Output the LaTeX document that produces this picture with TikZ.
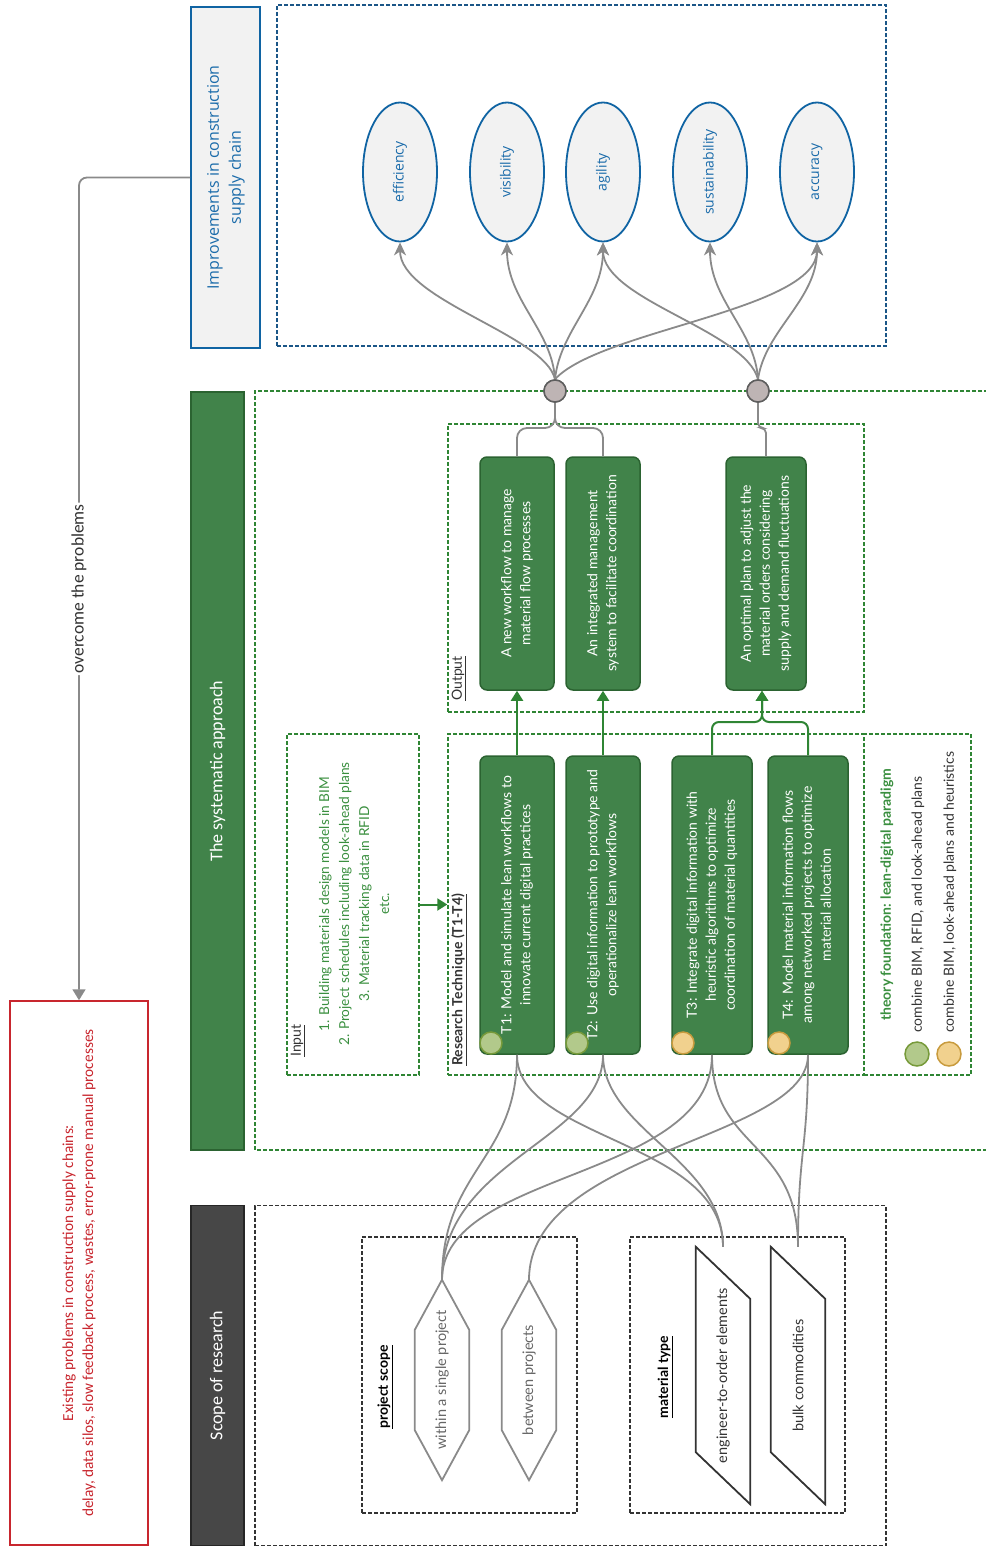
\documentclass[tikz,border=0pt]{standalone}
\usepackage{fontspec}
\setmainfont{Lato}
\newfontfamily\opensans{Open Sans}
\newfontfamily\carlito{Carlito}
\usetikzlibrary{arrows.meta,shapes.geometric,calc}
\definecolor{gfill}{HTML}{41834A}
\definecolor{gborder}{HTML}{2B6331}
\definecolor{dgreen}{HTML}{2F8534}
\definecolor{tgreen}{HTML}{3A8F3F}
\definecolor{eblue}{HTML}{1064A3}
\definecolor{tblue}{HTML}{1A6BAA}
\definecolor{bdashc}{HTML}{1B5687}
\definecolor{lgray}{HTML}{F2F2F2}
\definecolor{cgray}{HTML}{8A8A8A}
\definecolor{jfill}{HTML}{BEB4B4}
\definecolor{jborder}{HTML}{5E5E5E}
\definecolor{sfill}{HTML}{474747}
\definecolor{cred}{HTML}{C8262E}
\definecolor{dotgf}{HTML}{B2C98B}
\definecolor{dotgb}{HTML}{779A3A}
\definecolor{dotof}{HTML}{F1D18E}
\definecolor{dotob}{HTML}{C89B3E}
\definecolor{dtext}{HTML}{333333}
\newcommand\rt[1]{\rotatebox{90}{\begin{tabular}{@{}c@{}}#1\end{tabular}}}
\begin{document}
\begin{tikzpicture}[x=1pt,y=-1pt,
  gbox/.style={draw=gborder, fill=gfill, line width=1.5pt, rounded corners=7pt, inner sep=0pt, text=white, font=\fontsize{14}{19}\selectfont},
  ell/.style={ellipse, draw=eblue, fill=lgray, line width=1.8pt, minimum width=74pt, minimum height=139pt, inner sep=0pt, text=tblue, font=\opensans\fontsize{14}{16}\selectfont},
  gdash/.style={draw=dgreen, dash pattern=on 4pt off 2pt, line width=1.4pt},
  bdash/.style={draw=bdashc, dash pattern=on 4pt off 2pt, line width=1.4pt},
  kdash/.style={draw=dtext, dash pattern=on 4pt off 2pt, line width=1.4pt},
  gcon/.style={draw=cgray, line width=1.8pt},
  garr/.style={draw=cgray, line width=1.8pt, -{Stealth[length=13pt,width=12pt,inset=4pt]}},
  greenarr/.style={draw=dgreen, line width=2pt, -{Triangle[length=10pt,width=12pt]}},
  junc/.style={circle, minimum size=22pt, inner sep=0pt, fill=jfill, draw=jborder, line width=1.5pt},
  dotg/.style={circle, minimum size=22pt, inner sep=0pt, fill=dotgf, draw=dotgb, line width=1.5pt},
  doto/.style={circle, minimum size=22pt, inner sep=0pt, fill=dotof, draw=dotob, line width=1.5pt},
  lbl/.style={inner sep=0pt, font=\fontsize{14}{16}\selectfont},
  holder/.style={inner sep=0pt, minimum width=54pt}
]
\useasboundingbox (0,0) rectangle (985,1547);
% ---------------- frames
\node[bdash, minimum width=609pt, minimum height=341pt] (outc) at (581.5,175.5) {};
\draw[gdash] (1000,391) -| (255,1150) -- (1000,1150);
\node[gdash, minimum width=416pt, minimum height=288pt] (outbox) at (656,568) {};
\node[gdash, minimum width=416pt, minimum height=341pt] (resbox) at (656,904.5) {};
\node[gdash, minimum width=107pt, minimum height=341pt] (theory) at (917.5,904.5) {};
\node[gdash, minimum width=132pt, minimum height=341pt] (inbox) at (353,904.5) {};
\node[kdash, minimum width=631pt, minimum height=340pt] (scopef) at (570.5,1375.5) {};
\node[kdash, minimum width=215pt, minimum height=276pt] (pscope) at (469.5,1375) {};
\node[kdash, minimum width=215pt, minimum height=276pt] (mtype) at (737.5,1375) {};
% ---------------- side bars
\node[draw=eblue, fill=lgray, line width=1.8pt, minimum width=69pt, minimum height=341pt, inner sep=0pt, text=tblue, font=\opensans\fontsize{16}{22}\selectfont] (imp) at (225.5,177.5) {\rt{Improvements in construction\\supply chain}};
\node[draw=gborder, fill=gfill, line width=1.3pt, minimum width=53pt, minimum height=758pt, inner sep=0pt, text=white, font=\carlito\fontsize{18}{22}\selectfont] (sys) at (217.5,771) {\rotatebox{90}{The systematic approach}};
\node[draw=black!85, fill=sfill, line width=1.3pt, minimum width=53pt, minimum height=340pt, inner sep=0pt, text=white, font=\carlito\fontsize{18}{22}\selectfont] (scope) at (217.5,1375.5) {\rotatebox{90}{Scope of research}};
\node[draw=cred, line width=1.5pt, minimum width=138pt, minimum height=544pt, inner sep=0pt, text=cred, font=\carlito\fontsize{15.3}{20}\selectfont] (prob) at (79,1273) {\rt{Existing problems in construction supply chains:\\delay, data silos, slow feedback process, wastes, error-prone manual processes}};
% ---------------- ellipses
\node[ell] (e1) at (400,172) {\rotatebox{90}{efficiency}};
\node[ell] (e2) at (507,172) {\rotatebox{90}{visibility}};
\node[ell] (e3) at (603,172) {\rotatebox{90}{agility}};
\node[ell] (e4) at (710,172) {\rotatebox{90}{sustainability}};
\node[ell] (e5) at (817,172) {\rotatebox{90}{accuracy}};
% ---------------- output boxes
\node[gbox, minimum width=74pt, minimum height=233pt] (o1) at (517,573.5) {\rt{A new workflow to manage\\material flow processes}};
\node[gbox, minimum width=74pt, minimum height=233pt] (o2) at (603,573.5) {\rt{An integrated management\\system to facilitate coordination}};
\node[gbox, minimum width=80pt, minimum height=233pt] (o3) at (766,573.5) {\rt{An optimal plan to adjust the\\material orders considering\\supply and demand fluctuations}};
% ---------------- technique boxes
\node[gbox, minimum width=74pt, minimum height=298pt] (t1) at (517,905) {\rt{T1: Model and simulate lean workflows to\\innovate current digital practices}};
\node[gbox, minimum width=74pt, minimum height=298pt] (t2) at (603,905) {\rt{T2: Use digital information to prototype and\\operationalize lean workflows}};
\node[gbox, minimum width=80pt, minimum height=298pt] (t3) at (712,905) {\rt{T3: Integrate digital information with\\heuristic algorithms to optimize\\coordination of material quantities}};
\node[gbox, minimum width=80pt, minimum height=298pt] (t4) at (808,905) {\rt{T4: Model material information flows\\among networked projects to optimize\\material allocation}};
\node[dotg] (c1) at (491,1043) {};
\node[dotg] (c2) at (577,1043) {};
\node[doto] (c3) at (683,1043) {};
\node[doto] (c4) at (779,1043) {};
% ---------------- input text and labels
\node[inner sep=0pt, text=tgreen, font=\fontsize{13.7}{20}\selectfont] (intext) at (355,904) {\rt{1. Building materials design models in BIM\\2. Project schedules including look-ahead plans\\3. Material tracking data in RFID\\etc.}};
\node[lbl, text=dtext, anchor=south] (inlbl) at (298,1057) {\rotatebox{90}{\underline{Input}}};
\node[lbl, text=dtext, anchor=south] (reslbl) at (459,1066) {\rotatebox{90}{\underline{\textbf{Research Technique (T1-T4)}}}};
\node[lbl, text=dtext, anchor=south] (outlbl) at (459,701) {\rotatebox{90}{\underline{Output}}};
\node[lbl, text=tgreen, anchor=south] (thlbl) at (887,1021) {\rotatebox{90}{\textbf{theory foundation: lean-digital paradigm}}};
\node[lbl, text=dtext, anchor=south] (th1) at (918,1033) {\rotatebox{90}{combine BIM, RFID, and look-ahead plans}};
\node[lbl, text=dtext, anchor=south] (th2) at (950,1033) {\rotatebox{90}{combine BIM, look-ahead plans and heuristics}};
\node[dotg, minimum size=24pt] (lg) at (917,1054) {};
\node[doto, minimum size=24pt] (lo) at (949,1054) {};
% ---------------- scope items
\node[lbl, text=black, font=\bfseries\fontsize{14}{16}\selectfont] (pslbl) at (385,1387) {\rotatebox{90}{\underline{project scope}}};
\node[lbl, text=black, font=\bfseries\fontsize{14}{16}\selectfont] (mtlbl) at (665,1377) {\rotatebox{90}{\underline{material type}}};
\node[holder, minimum height=200pt, text=black!60, font=\fontsize{14.5}{16}\selectfont] (within) at (442,1380) {\rotatebox{90}{within a single project}};
\node[holder, minimum height=200pt, text=black!60, font=\fontsize{14.5}{16}\selectfont] (between) at (529,1380) {\rotatebox{90}{between projects}};
\foreach \n in {within,between}{
  \draw[cgray, line width=1.8pt, line join=miter] (\n.north) -- ($(\n.north east)+(0,50)$) -- ($(\n.south east)+(0,-50)$) -- (\n.south) -- ($(\n.south west)+(0,-50)$) -- ($(\n.north west)+(0,50)$) -- cycle;
}
\node[holder, minimum height=257pt, text=dtext, font=\fontsize{14.5}{16}\selectfont] (eto) at (723,1375.5) {\rotatebox{90}{engineer-to-order elements}};
\node[holder, minimum height=257pt, text=dtext, font=\fontsize{14.5}{16}\selectfont] (bulk) at (798,1375.5) {\rotatebox{90}{bulk commodities}};
\foreach \n in {eto,bulk}{
  \draw[black!80, line width=1.8pt, line join=miter] (\n.north west) -- ($(\n.north east)+(0,52)$) -- (\n.south east) -- ($(\n.south west)+(0,-52)$) -- cycle;
}
% ---------------- green arrows
\draw[greenarr] (inbox.east) -- (resbox.west);
\draw[greenarr] (t1.north) -- (o1.south);
\draw[greenarr] (t2.north) -- (o2.south);
\coordinate (m3) at (762,722);
\draw[greenarr, rounded corners=7pt] (t3.north) |- (m3) -- (m3 |- o3.south);
\draw[greenarr, rounded corners=7pt] (t4.north) |- (m3) -- (m3 |- o3.south);
% ---------------- gray connectors: outputs to junctions
\draw[gcon, rounded corners=10pt] (o1.north) |- (555,428) -- (555,402);
\draw[gcon, rounded corners=10pt] (o2.north) |- (555,428) -- (555,402);
\draw[gcon, rounded corners=5pt] (o3.north) |- (758,428) -- (758,402);
% ---------------- gray connectors: junctions to ellipses
\node[junc] (j1) at (555,391) {};
\node[junc] (j2) at (758,391) {};
\draw[garr] (j1.north) .. controls (545,335) and (400,300) .. (e1.south);
\draw[garr] (j1.north) .. controls (552,330) and (507,300) .. (e2.south);
\draw[garr] (j1.north) .. controls (560,330) and (603,300) .. (e3.south);
\draw[garr] (j1.north) .. controls (600,330) and (817,310) .. (e5.south);
\draw[garr] (j2.north) .. controls (745,330) and (603,300) .. (e3.south);
\draw[garr] (j2.north) .. controls (755,330) and (710,300) .. (e4.south);
\draw[garr] (j2.north) .. controls (765,330) and (817,300) .. (e5.south);
\node[junc] at (j1) {};
\node[junc] at (j2) {};
% ---------------- gray connectors: techniques to scope
\draw[gcon] (t1.south) .. controls (517,1160) and (442,1170) .. (within.north);
\draw[gcon] (t1.south) .. controls (517,1140) and (723,1140) .. (eto.north);
\draw[gcon] (t2.south) .. controls (603,1140) and (442,1160) .. (within.north);
\draw[gcon] (t2.south) .. controls (603,1130) and (723,1160) .. (eto.north);
\draw[gcon] (t3.south) .. controls (712,1180) and (442,1170) .. (within.north);
\draw[gcon] (t3.south) .. controls (712,1150) and (798,1140) .. (bulk.north);
\draw[gcon] (t4.south) .. controls (808,1140) and (529,1150) .. (between.north);
\draw[gcon] (t4.south) .. controls (808,1150) and (798,1150) .. (bulk.north);
% ---------------- overcome the problems
\draw[gcon, rounded corners=8pt, -{Triangle[length=11pt,width=13pt]}] (imp.west) -| node[pos=0.75, fill=white, inner sep=1.5pt, text=dtext, font=\carlito\fontsize{17.5}{20}\selectfont] (ovl) {\rotatebox{90}{overcome the problems}} (prob.north);
\end{tikzpicture}
\end{document}
